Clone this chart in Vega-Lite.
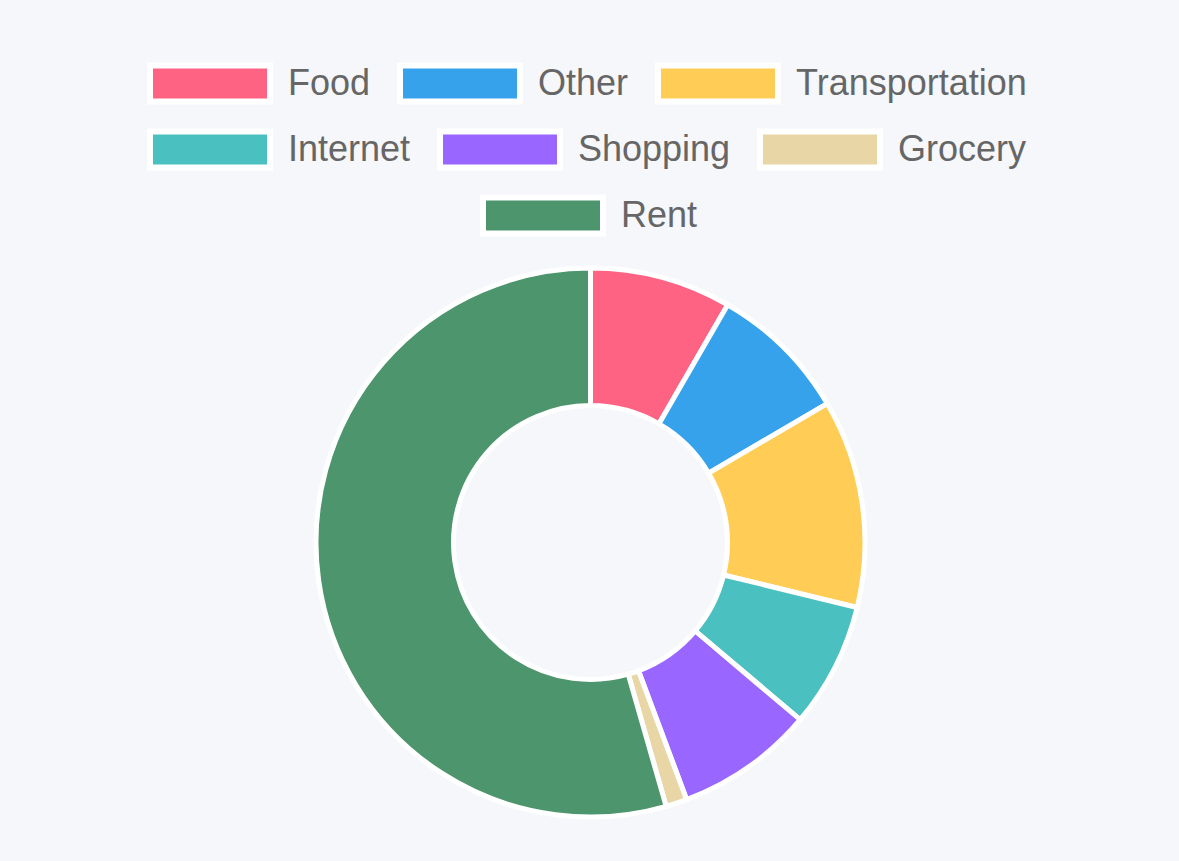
{
  "$schema": "https://vega.github.io/schema/vega-lite/v6.json",
  "autosize": {"type": "none"},
  "padding": {"left": 316, "top": 268, "right": 314, "bottom": 44},
  "width": 549,
  "height": 549,
  "background": "#f5f7fb",
  "data": {
    "values": [
      {"category": "Food", "value": 300},
      {"category": "Other", "value": 296},
      {"category": "Transportation", "value": 441},
      {"category": "Internet", "value": 265},
      {"category": "Shopping", "value": 293},
      {"category": "Grocery", "value": 45},
      {"category": "Rent", "value": 1960}
    ]
  },
  "transform": [
    {"stack": "value", "groupby": [], "as": ["v0", "v1"]}
  ],
  "resolve": {"scale": {"color": "independent"}},
  "layer": [
    {
      "transform": [{"filter": {"field": "category", "oneOf": ["Food", "Other", "Transportation"]}}],
      "mark": {"type": "arc", "innerRadius": 137, "stroke": "white", "strokeWidth": 5},
      "encoding": {
        "theta": {"field": "v0", "type": "quantitative", "stack": null, "scale": {"domain": [0, 3600]}},
        "theta2": {"field": "v1"},
        "color": {
          "field": "category", "type": "nominal",
          "scale": {"domain": ["Food", "Other", "Transportation"], "range": ["#ff6384", "#36a2eb", "#ffcd56"]},
          "legend": {"orient": "none", "legendX": -169, "legendY": -247.5, "direction": "horizontal", "title": null}
        }
      }
    },
    {
      "transform": [{"filter": {"field": "category", "oneOf": ["Internet", "Shopping", "Grocery"]}}],
      "mark": {"type": "arc", "innerRadius": 137, "stroke": "white", "strokeWidth": 5},
      "encoding": {
        "theta": {"field": "v0", "type": "quantitative", "stack": null, "scale": {"domain": [0, 3600]}},
        "theta2": {"field": "v1"},
        "color": {
          "field": "category", "type": "nominal",
          "scale": {"domain": ["Internet", "Shopping", "Grocery"], "range": ["#4bc0c0", "#9966ff", "#e8d6a6"]},
          "legend": {"orient": "none", "legendX": -169, "legendY": -181.5, "direction": "horizontal", "title": null}
        }
      }
    },
    {
      "transform": [{"filter": {"field": "category", "oneOf": ["Rent"]}}],
      "mark": {"type": "arc", "innerRadius": 137, "stroke": "white", "strokeWidth": 5},
      "encoding": {
        "theta": {"field": "v0", "type": "quantitative", "stack": null, "scale": {"domain": [0, 3600]}},
        "theta2": {"field": "v1"},
        "color": {
          "field": "category", "type": "nominal",
          "scale": {"domain": ["Rent"], "range": ["#4d956c"]},
          "legend": {"orient": "none", "legendX": 164, "legendY": -115.5, "direction": "horizontal", "title": null}
        }
      }
    }
  ],
  "config": {
    "view": {"stroke": null},
    "legend": {
      "symbolType": "M-1,-0.3H1V0.3H-1Z",
      "symbolSize": 14400,
      "symbolStrokeColor": "white",
      "symbolStrokeWidth": 6,
      "symbolOpacity": 1,
      "labelFont": "Liberation Sans",
      "labelFontSize": 36,
      "labelColor": "#666666",
      "labelLimit": 500,
      "labelOffset": 15,
      "columnPadding": 17,
      "padding": 0
    }
  }
}
